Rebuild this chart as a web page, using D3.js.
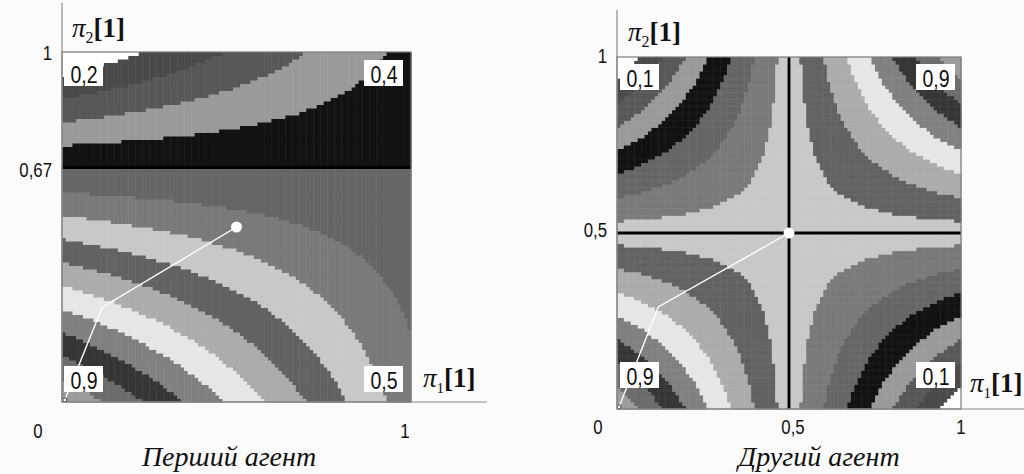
<!DOCTYPE html>
<html>
<meta charset="UTF-8">
<title>Payoff maps</title>
<style>
    body { margin: 0; background: #fbfbfb; }
    .tick { font-family: "Liberation Sans", Arial, sans-serif; font-size: 21px; fill: #111; }
    .corner { font-family: "Liberation Sans", Arial, sans-serif; font-size: 23px; fill: #111; }
    .axname { font-family: "Liberation Serif", "Times New Roman", serif; font-size: 27px; fill: #111; }
    .title { font-family: "Liberation Serif", "Times New Roman", serif; font-style: italic; font-size: 28px; fill: #111; }
</style>
<body>
<div id="chart"></div>
<script src="https://d3js.org/d3.v7.min.js"></script>
<script>

    // payoffs at the corners (p,q) = (0,0), (1,0), (0,1), (1,1)
    var payoffFirst = [0.9, 0.5, 0.2, 0.4];
    var payoffSecond = [0.9, 0.1, 0.1, 0.9];

    // gray level of each of the 15 contour bands, low value -> high value
    var bandColors = ['#ffffff', '#4a4a4a', '#585858', '#9a9a9a', '#121212',
                      '#666666', '#7a7a7a', '#c8c8c8', '#626262', '#acacac',
                      '#e6e6e6', '#808080', '#363636', '#6c6c6c', '#9c9c9c'];

    // learning trajectories (pi1[1], pi2[1])
    var pathFirst = [[0.008, 0.006], [0.115, 0.27], [0.5, 0.5]];
    var pathSecond = [[0.006, 0.006], [0.12, 0.29], [0.5, 0.5]];

    // black indifference lines
    var linesFirst = [{dir: 'h', v: 0.67}];
    var linesSecond = [{dir: 'v', v: 0.5}, {dir: 'h', v: 0.5}];

    var xTicksFirst = [0, 1];
    var yTicksFirst = [0.67, 1];
    var xTicksSecond = [0, 0.5, 1];
    var yTicksSecond = [0.5, 1];

    var titles = ['Перший агент', 'Другий агент'];

    var gridN = 100;
    var fmt = function(v) { return String(v).replace('.', ','); };

    var svg = d3.select('#chart').append('svg')
        .attr('width', 1024)
        .attr('height', 474);

    var plots = [
        {payoff: payoffFirst, path: pathFirst, lines: linesFirst, xt: xTicksFirst, yt: yTicksFirst,
         title: titles[0], x0: 62, x1: 411, y0: 402, y1: 52,
         xAxisEnd: 487, yAxisTop: 3, tickBase: 438, xTickShift: [-24, -6],
         yTickShift: {0.67: 9, 1: 8}, cornerTop: 60, cornerBottom: 366,
         cornerLeft: 64, cornerRight: 403, piY: [72, 37], piX: [423, 387], piXSize: 27, titleX: 229},
        {payoff: payoffSecond, path: pathSecond, lines: linesSecond, xt: xTicksSecond, yt: yTicksSecond,
         title: titles[1], x0: 617, x1: 961, y0: 409, y1: 57,
         xAxisEnd: 1024, yAxisTop: 10, tickBase: 434, xTickShift: [-19, 4, 0],
         yTickShift: {0.5: 4, 1: 6}, cornerTop: 64, cornerBottom: 362,
         cornerLeft: 620, cornerRight: 955, piY: [628, 41], piX: [970, 392], piXSize: 24, titleX: 819}
    ];

    plots.forEach(function(pl) {
        var x = d3.scaleLinear().domain([0, 1]).range([pl.x0, pl.x1]);
        var y = d3.scaleLinear().domain([0, 1]).range([pl.y0, pl.y1]);
        var c = pl.payoff;
        var f = function(p, q) {
            return c[0] * (1 - p) * (1 - q) + c[1] * p * (1 - q) + c[2] * (1 - p) * q + c[3] * p * q;
        };
        var color = d3.scaleQuantize().domain(d3.extent(c)).range(bandColors);

        var cells = [];
        for (var i = 0; i < gridN; i++) {
            for (var j = 0; j < gridN; j++) {
                cells.push({i: i, j: j, v: f((i + 0.5) / gridN, (j + 0.5) / gridN)});
            }
        }

        var g = svg.append('g');

        g.selectAll('rect.cell')
            .data(cells)
            .enter()
            .append('rect')
            .attr('class', 'cell')
            .attr('x', function(d) { return x(d.i / gridN); })
            .attr('y', function(d) { return y((d.j + 1) / gridN); })
            .attr('width', function(d) { return x((d.i + 1) / gridN) - x(d.i / gridN) + 0.5; })
            .attr('height', function(d) { return y(d.j / gridN) - y((d.j + 1) / gridN) + 0.5; })
            .attr('fill', function(d) { return color(d.v); });

        // indifference lines
        g.selectAll('line.ind')
            .data(pl.lines)
            .enter()
            .append('line')
            .attr('x1', function(d) { return d.dir === 'h' ? x(0) : x(d.v); })
            .attr('x2', function(d) { return d.dir === 'h' ? x(1) : x(d.v); })
            .attr('y1', function(d) { return d.dir === 'h' ? y(d.v) : y(0); })
            .attr('y2', function(d) { return d.dir === 'h' ? y(d.v) : y(1); })
            .attr('stroke', '#000')
            .attr('stroke-width', 2.8);

        // trajectory
        g.append('path')
            .attr('d', d3.line().x(function(d) { return x(d[0]); }).y(function(d) { return y(d[1]); })(pl.path))
            .attr('fill', 'none')
            .attr('stroke', '#fff')
            .attr('stroke-width', 1.4);

        var last = pl.path[pl.path.length - 1];
        g.append('circle')
            .attr('cx', x(last[0])).attr('cy', y(last[1])).attr('r', 5.5)
            .attr('fill', '#fff');
        g.append('circle')
            .attr('cx', x(pl.path[0][0])).attr('cy', y(pl.path[0][1])).attr('r', 2)
            .attr('fill', '#fff').attr('stroke', '#333').attr('stroke-width', 1);

        // frame and axes
        g.append('rect')
            .attr('x', x(0)).attr('y', y(1))
            .attr('width', x(1) - x(0)).attr('height', y(0) - y(1))
            .attr('fill', 'none').attr('stroke', '#7a7a7a').attr('stroke-width', 1.2);
        g.append('line')
            .attr('x1', x(0)).attr('x2', x(0)).attr('y1', pl.yAxisTop).attr('y2', y(0))
            .attr('stroke', '#8a8a8a').attr('stroke-width', 1.2);
        g.append('line')
            .attr('x1', x(0)).attr('x2', pl.xAxisEnd).attr('y1', y(0)).attr('y2', y(0))
            .attr('stroke', '#8a8a8a').attr('stroke-width', 1.2);

        // tick labels
        pl.xt.forEach(function(t, k) {
            var tx = x(t) + pl.xTickShift[k];
            g.append('text')
                .attr('class', 'tick')
                .attr('text-anchor', 'middle')
                .attr('transform', 'translate(' + tx + ',' + pl.tickBase + ') scale(0.8,1)')
                .text(fmt(t));
        });
        pl.yt.forEach(function(t) {
            g.append('text')
                .attr('class', 'tick')
                .attr('text-anchor', 'end')
                .attr('transform', 'translate(' + (x(0) - 10) + ',' + (y(t) + pl.yTickShift[t]) + ') scale(0.8,1)')
                .text(fmt(t));
        });

        // corner value boxes
        var corners = [
            {v: c[2], x: pl.cornerLeft, y: pl.cornerTop},
            {v: c[3], x: pl.cornerRight - 39, y: pl.cornerTop},
            {v: c[0], x: pl.cornerLeft, y: pl.cornerBottom},
            {v: c[1], x: pl.cornerRight - 39, y: pl.cornerBottom}
        ];
        var cb = g.selectAll('g.corner')
            .data(corners)
            .enter()
            .append('g')
            .attr('transform', function(d) { return 'translate(' + d.x + ',' + d.y + ')'; });
        cb.append('rect')
            .attr('width', 39).attr('height', 26)
            .attr('fill', '#fff');
        cb.append('text')
            .attr('class', 'corner')
            .attr('text-anchor', 'middle')
            .attr('transform', 'translate(20,23) scale(0.85,1)')
            .text(function(d) { return fmt(d.v); });

        // axis names
        var py = g.append('text').attr('class', 'axname')
            .attr('x', pl.piY[0]).attr('y', pl.piY[1]);
        py.append('tspan').attr('font-style', 'italic').text('π');
        py.append('tspan').attr('font-size', '16px').attr('dy', 6).text('2');
        py.append('tspan').attr('font-weight', 'bold').attr('dy', -6).text('[1]');

        var px = g.append('text').attr('class', 'axname')
            .attr('font-size', pl.piXSize + 'px')
            .attr('x', pl.piX[0]).attr('y', pl.piX[1]);
        px.append('tspan').attr('font-style', 'italic').text('π');
        px.append('tspan').attr('font-size', '15px').attr('dy', 6).text('1');
        px.append('tspan').attr('font-weight', 'bold').attr('dy', -6).text('[1]');

        g.append('text')
            .attr('class', 'title')
            .attr('x', pl.titleX).attr('y', 466)
            .attr('text-anchor', 'middle')
            .text(pl.title);
    });
</script>
</body>
</html>
